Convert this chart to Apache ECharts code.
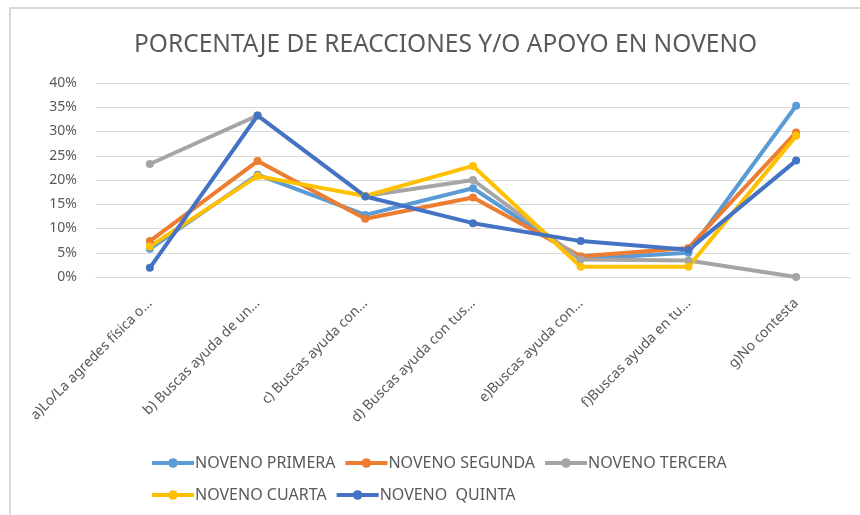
<!DOCTYPE html>
<html>
<head>
<meta charset="utf-8">
<script src="https://cdn.jsdelivr.net/npm/echarts@6/dist/echarts.min.js"></script>
<style>
    html, body { margin: 0; padding: 0; background: #ffffff; }
    #wrap { position: relative; width: 860px; height: 515px; }
    #frame {
        position: absolute; left: 9px; top: 7px; right: -4px; bottom: -4px;
        border-top: 2px solid #d9d9d9; border-left: 2px solid #d9d9d9;
    }
    #myChart { position: absolute; left: 0; top: 0; width: 860px; height: 515px; }
</style>
</head>
<body>
<div id="wrap">
    <div id="frame"></div>
    <div id="myChart"></div>
</div>
<script>
    // categorias (recortadas como en el original)
    let categorias = ['a)Lo/La agredes física o…', 'b) Buscas ayuda de un…', 'c) Buscas ayuda con…',
        'd) Buscas ayuda con tus…', 'e)Buscas ayuda con…', 'f)Buscas ayuda en tu…', 'g)No contesta']

    // porcentajes
    let primera = [0.058, 0.211, 0.128, 0.183, 0.037, 0.05, 0.353]
    let segunda = [0.074, 0.239, 0.12, 0.164, 0.043, 0.06, 0.298]
    let tercera = [0.233, 0.333, 0.167, 0.2, 0.036, 0.034, 0.0]
    let cuarta = [0.063, 0.208, 0.167, 0.229, 0.021, 0.021, 0.291]
    let quinta = [0.019, 0.333, 0.166, 0.111, 0.074, 0.056, 0.24]

    let nombres = ['NOVENO PRIMERA', 'NOVENO SEGUNDA', 'NOVENO TERCERA', 'NOVENO CUARTA', 'NOVENO  QUINTA']
    let colores = ['#5b9bd5', '#ed7d31', '#a5a5a5', '#ffc000', '#4472c4']
    let datos = [primera, segunda, tercera, cuarta, quinta]

    let fuente = '"Noto Sans", sans-serif'

    let series = nombres.map(function (n, i) {
        return {
            name: n,
            type: 'line',
            data: datos[i],
            symbol: 'circle',
            symbolSize: 8,
            lineStyle: { width: 4, color: colores[i] },
            itemStyle: { color: colores[i] },
            emphasis: { disabled: true }
        }
    })

    let leyenda = function (items, top) {
        return {
            data: items,
            top: top,
            left: 145,
            itemWidth: 42,
            itemHeight: 12,
            itemGap: 8,
            lineStyle: { width: 4 },
            textStyle: { color: '#595959', fontSize: 16, fontFamily: fuente, padding: [0, 0, 0, -4] }
        }
    }

    let myChart = echarts.init(document.getElementById('myChart'), null, { renderer: 'canvas' })
    myChart.setOption({
        animation: false,
        title: {
            text: 'PORCENTAJE DE REACCIONES Y/O APOYO EN NOVENO',
            left: 129,
            top: 28,
            textStyle: { color: '#595959', fontSize: 24.5, fontWeight: 'normal', fontFamily: fuente }
        },
        legend: [leyenda(nombres.slice(0, 3), 450), leyenda(nombres.slice(3), 482)],
        grid: { left: 96, right: 10, top: 83, bottom: 238, outerBoundsMode: 'none' },
        xAxis: {
            type: 'category',
            data: categorias,
            boundaryGap: true,
            axisLine: { lineStyle: { color: '#d9d9d9', width: 1 } },
            axisTick: { show: false },
            axisLabel: {
                rotate: 45,
                margin: 24,
                interval: 0,
                color: '#595959',
                fontSize: 14,
                fontFamily: fuente
            }
        },
        yAxis: {
            type: 'value',
            min: 0,
            max: 0.4,
            interval: 0.05,
            axisLine: { show: false },
            axisTick: { show: false },
            splitLine: { lineStyle: { color: '#d9d9d9', width: 1 } },
            axisLabel: {
                margin: 19,
                color: '#595959',
                fontSize: 14,
                fontFamily: fuente,
                formatter: function (v) { return Math.round(v * 100) + '%' }
            }
        },
        series: series
    })
</script>
</body>
</html>
